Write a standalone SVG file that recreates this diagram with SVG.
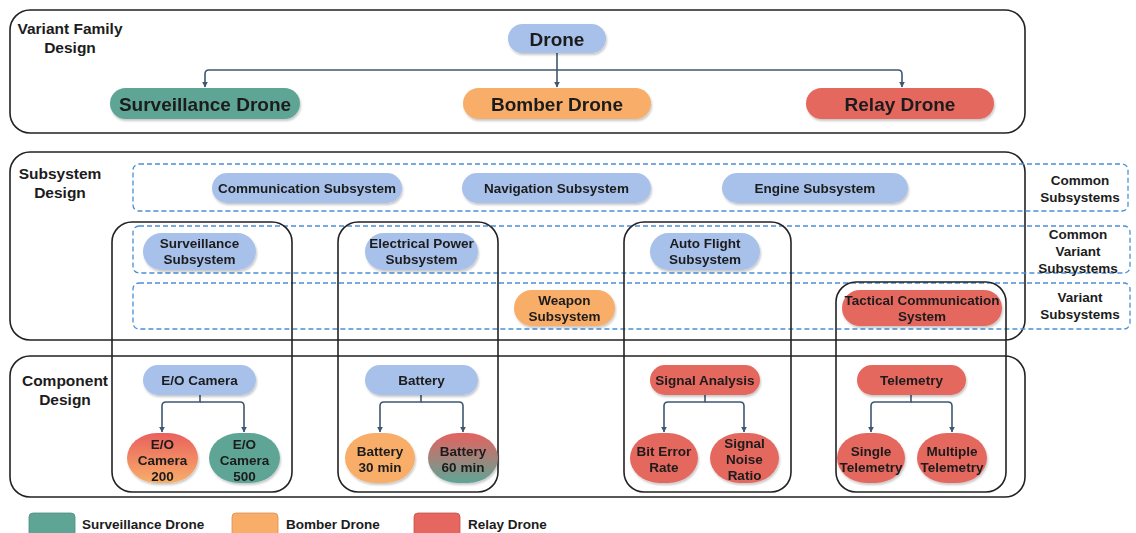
<svg xmlns="http://www.w3.org/2000/svg" width="1136" height="533" viewBox="0 0 1136 533">
  <defs>
    <style>
      text { font-family: "Liberation Sans", Arial, sans-serif; font-weight: bold; fill: #1c1c1c; text-anchor: middle; dominant-baseline: central; }
      .frame { fill: none; stroke: #222; stroke-width: 1.6; }
      .band { fill: none; stroke: #4a8fd6; stroke-width: 1.3; stroke-dasharray: 5 3; }
      .blue { fill: #a7c1ea; }
      .teal { fill: #5fa596; }
      .orange { fill: #f8ad68; }
      .red { fill: #e5675f; }
      .node { filter: url(#shadow); }
      .t19 { font-size: 19px; }
      .t13 { font-size: 13.5px; }
      .lbl { font-size: 15.5px; }
      .side { font-size: 13.5px; }
      .legend { font-size: 13.5px; text-anchor: start; }
      .wire { fill: none; stroke: #3e5870; stroke-width: 1.6; marker-end: url(#tip); }
    </style>
    <marker id="tip" viewBox="0 0 10 10" refX="9" refY="5" markerWidth="6" markerHeight="6" orient="auto" markerUnits="userSpaceOnUse">
      <path d="M0,0 L10,5 L0,10 z" fill="#3e5870"/>
    </marker>
    <filter id="shadow" x="-10%" y="-10%" width="125%" height="140%">
      <feDropShadow dx="1" dy="2" stdDeviation="1.2" flood-color="#000" flood-opacity="0.22"/>
    </filter>
    <linearGradient id="redOrange" x1="0" y1="0" x2="0" y2="1">
      <stop offset="0" stop-color="#e9615e"/>
      <stop offset="1" stop-color="#f8ae69"/>
    </linearGradient>
    <linearGradient id="redTeal" x1="0" y1="0" x2="0" y2="1">
      <stop offset="0" stop-color="#e5625f"/>
      <stop offset="1" stop-color="#5fa596"/>
    </linearGradient>
  </defs>

  <rect width="1136" height="533" fill="#ffffff"/>

  <!-- level frames -->
  <g id="variant-family-level">
    <rect class="frame" x="10" y="10" width="1015" height="123" rx="20"/>
    <text class="lbl" x="70" y="28">Variant Family</text>
    <text class="lbl" x="70" y="47">Design</text>
  </g>
  <g id="subsystem-level">
    <rect class="frame" x="10" y="152" width="1015" height="188" rx="20"/>
    <text class="lbl" x="60" y="173">Subsystem</text>
    <text class="lbl" x="60" y="192">Design</text>
  </g>
  <g id="component-level">
    <rect class="frame" x="10" y="356" width="1015" height="141" rx="20"/>
    <text class="lbl" x="65" y="380">Component</text>
    <text class="lbl" x="65" y="399">Design</text>
  </g>

  <!-- subsystem category bands -->
  <g id="band-common">
    <rect class="band" x="133" y="164" width="995" height="47" rx="6"/>
    <text class="side" x="1080" y="180">Common</text>
    <text class="side" x="1080" y="197">Subsystems</text>
  </g>
  <g id="band-common-variant">
    <rect class="band" x="133" y="226" width="997" height="47" rx="6"/>
    <text class="side" x="1078" y="234">Common</text>
    <text class="side" x="1078" y="251">Variant</text>
    <text class="side" x="1078" y="268">Subsystems</text>
  </g>
  <g id="band-variant">
    <rect class="band" x="133" y="283" width="997" height="46" rx="6"/>
    <text class="side" x="1080" y="297">Variant</text>
    <text class="side" x="1080" y="314">Subsystems</text>
  </g>

  <!-- subsystem-to-component columns -->
  <g id="column-surveillance"><rect class="frame" x="112" y="222" width="180" height="270" rx="20"/></g>
  <g id="column-power"><rect class="frame" x="338" y="222" width="160" height="270" rx="20"/></g>
  <g id="column-autoflight"><rect class="frame" x="624" y="222" width="167" height="270" rx="20"/></g>
  <g id="column-tactical"><rect class="frame" x="836" y="282" width="170" height="210" rx="20"/></g>

  <!-- connectors -->
  <g id="connectors">
    <path class="wire" d="M557,53 V70 M557,70 H209 Q205,70 205,74 V87"/>
    <path class="wire" d="M557,70 V87"/>
    <path class="wire" d="M557,70 H898 Q902,70 902,74 V87"/>

    <path class="wire" d="M200,395 V402 H166 Q162,402 162,406 V432"/>
    <path class="wire" d="M200,402 H240 Q244,402 244,406 V432"/>

    <path class="wire" d="M421,395 V402 H384 Q380,402 380,406 V432"/>
    <path class="wire" d="M421,402 H459 Q463,402 463,406 V432"/>

    <path class="wire" d="M705,395 V402 H668 Q664,402 664,406 V432"/>
    <path class="wire" d="M705,402 H740 Q744,402 744,406 V432"/>

    <path class="wire" d="M911,395 V402 H875 Q871,402 871,406 V432"/>
    <path class="wire" d="M911,402 H948 Q952,402 952,406 V432"/>
  </g>

  <!-- variant family -->
  <g id="drone" class="node">
    <rect class="blue" x="508" y="24" width="98" height="29" rx="14.5"/>
    <text class="t19" x="557" y="39">Drone</text>
  </g>
  <g id="surveillance-drone" class="node">
    <rect class="teal" x="110" y="88" width="190" height="31" rx="15.5"/>
    <text class="t19" x="205" y="104">Surveillance Drone</text>
  </g>
  <g id="bomber-drone" class="node">
    <rect class="orange" x="463" y="88" width="188" height="31" rx="15.5"/>
    <text class="t19" x="557" y="104">Bomber Drone</text>
  </g>
  <g id="relay-drone" class="node">
    <rect class="red" x="806" y="88" width="188" height="31" rx="15.5"/>
    <text class="t19" x="900" y="104">Relay Drone</text>
  </g>

  <!-- common subsystems -->
  <g id="communication-subsystem" class="node">
    <rect class="blue" x="212" y="173" width="190" height="30" rx="15"/>
    <text class="t13" x="307" y="188">Communication Subsystem</text>
  </g>
  <g id="navigation-subsystem" class="node">
    <rect class="blue" x="462" y="173" width="189" height="30" rx="15"/>
    <text class="t13" x="556.5" y="188">Navigation Subsystem</text>
  </g>
  <g id="engine-subsystem" class="node">
    <rect class="blue" x="722" y="173" width="186" height="30" rx="15"/>
    <text class="t13" x="815" y="188">Engine Subsystem</text>
  </g>

  <!-- common variant subsystems -->
  <g id="surveillance-subsystem" class="node">
    <rect class="blue" x="143" y="233" width="113" height="37" rx="18.5"/>
    <text class="t13" x="199.5" y="243">Surveillance</text>
    <text class="t13" x="199.5" y="259">Subsystem</text>
  </g>
  <g id="electrical-power-subsystem" class="node">
    <rect class="blue" x="365" y="233" width="113" height="37" rx="18.5"/>
    <text class="t13" x="421.5" y="243">Electrical Power</text>
    <text class="t13" x="421.5" y="259">Subsystem</text>
  </g>
  <g id="auto-flight-subsystem" class="node">
    <rect class="blue" x="650" y="233" width="110" height="37" rx="18.5"/>
    <text class="t13" x="705" y="243">Auto Flight</text>
    <text class="t13" x="705" y="259">Subsystem</text>
  </g>

  <!-- variant subsystems -->
  <g id="weapon-subsystem" class="node">
    <rect class="orange" x="514" y="290" width="101" height="36" rx="18"/>
    <text class="t13" x="564.5" y="300">Weapon</text>
    <text class="t13" x="564.5" y="316">Subsystem</text>
  </g>
  <g id="tactical-communication-system" class="node">
    <rect class="red" x="842" y="290" width="160" height="36" rx="18"/>
    <text class="t13" x="922" y="300">Tactical Communication</text>
    <text class="t13" x="922" y="316">System</text>
  </g>

  <!-- components -->
  <g id="eo-camera" class="node">
    <rect class="blue" x="143" y="365" width="113" height="30" rx="15"/>
    <text class="t13" x="199.5" y="380">E/O Camera</text>
  </g>
  <g id="eo-camera-200" class="node">
    <rect fill="url(#redOrange)" x="127" y="433" width="71" height="50" rx="30" ry="25"/>
    <text class="t13" x="162.5" y="444">E/O</text>
    <text class="t13" x="162.5" y="460">Camera</text>
    <text class="t13" x="162.5" y="476">200</text>
  </g>
  <g id="eo-camera-500" class="node">
    <rect class="teal" x="209" y="433" width="71" height="50" rx="30" ry="25"/>
    <text class="t13" x="244.5" y="444">E/O</text>
    <text class="t13" x="244.5" y="460">Camera</text>
    <text class="t13" x="244.5" y="476">500</text>
  </g>

  <g id="battery" class="node">
    <rect class="blue" x="365" y="365" width="113" height="30" rx="15"/>
    <text class="t13" x="421.5" y="380">Battery</text>
  </g>
  <g id="battery-30" class="node">
    <rect class="orange" x="345" y="433" width="70" height="50" rx="30" ry="25"/>
    <text class="t13" x="380" y="451">Battery</text>
    <text class="t13" x="380" y="467">30 min</text>
  </g>
  <g id="battery-60" class="node">
    <rect fill="url(#redTeal)" x="428" y="433" width="70" height="50" rx="30" ry="25"/>
    <text class="t13" x="463" y="451">Battery</text>
    <text class="t13" x="463" y="467">60 min</text>
  </g>

  <g id="signal-analysis" class="node">
    <rect class="red" x="650" y="365" width="110" height="30" rx="15"/>
    <text class="t13" x="705" y="380">Signal Analysis</text>
  </g>
  <g id="bit-error-rate" class="node">
    <rect class="red" x="630" y="433" width="68" height="50" rx="30" ry="25"/>
    <text class="t13" x="664" y="451">Bit Error</text>
    <text class="t13" x="664" y="467">Rate</text>
  </g>
  <g id="signal-noise-ratio" class="node">
    <rect class="red" x="710" y="433" width="69" height="50" rx="30" ry="25"/>
    <text class="t13" x="744.5" y="443">Signal</text>
    <text class="t13" x="744.5" y="459">Noise</text>
    <text class="t13" x="744.5" y="475">Ratio</text>
  </g>

  <g id="telemetry" class="node">
    <rect class="red" x="857" y="365" width="109" height="30" rx="15"/>
    <text class="t13" x="911.5" y="380">Telemetry</text>
  </g>
  <g id="single-telemetry" class="node">
    <rect class="red" x="837" y="433" width="68" height="50" rx="30" ry="25"/>
    <text class="t13" x="871" y="451">Single</text>
    <text class="t13" x="871" y="467">Telemetry</text>
  </g>
  <g id="multiple-telemetry" class="node">
    <rect class="red" x="917" y="433" width="70" height="50" rx="30" ry="25"/>
    <text class="t13" x="952" y="451">Multiple</text>
    <text class="t13" x="952" y="467">Telemetry</text>
  </g>

  <!-- legend -->
  <g id="legend">
    <rect class="teal" x="29" y="513" width="46" height="24" rx="4" stroke="#4f8c7f" stroke-width="0.8"/>
    <text class="legend" x="82" y="524">Surveillance Drone</text>
    <rect class="orange" x="232" y="513" width="46" height="24" rx="4" stroke="#d99150" stroke-width="0.8"/>
    <text class="legend" x="286" y="524">Bomber Drone</text>
    <rect class="red" x="414" y="513" width="46" height="24" rx="4" stroke="#c4524b" stroke-width="0.8"/>
    <text class="legend" x="468" y="524">Relay Drone</text>
  </g>
</svg>
